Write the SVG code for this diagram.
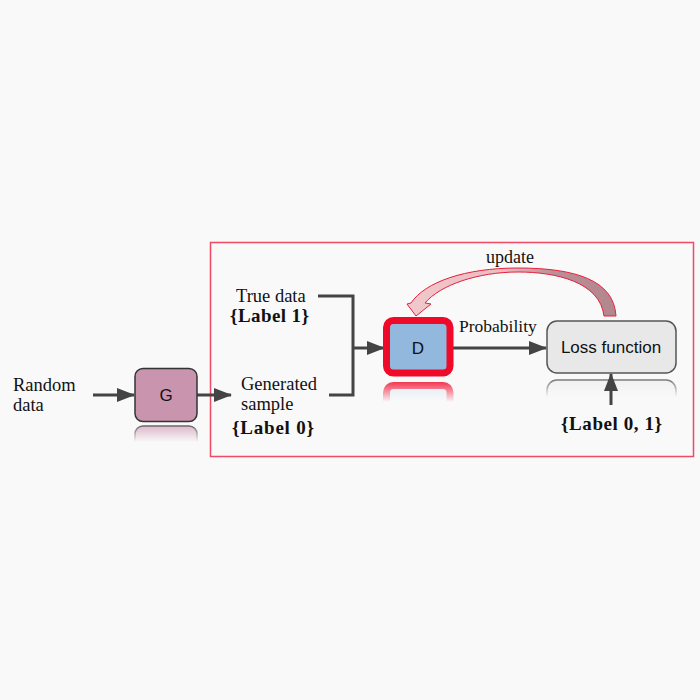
<svg xmlns="http://www.w3.org/2000/svg" width="700" height="700" viewBox="0 0 700 700">
<style>
.serif{font-family:"Liberation Serif","Times New Roman",serif;fill:#111;}
.sans{font-family:"Liberation Sans",Arial,sans-serif;fill:#111;}
.bold{font-weight:bold;}
.conn{fill:none;stroke:#444;stroke-width:3;}
.box{stroke-width:1.5;}
</style>
<defs>
<marker id="ah" markerUnits="userSpaceOnUse" markerWidth="18" markerHeight="14" viewBox="0 0 18 14" refX="17" refY="7" orient="auto">
<path d="M0,0 L18,7 L0,14 Z" fill="#444"/>
</marker>
<linearGradient id="fade" x1="0" y1="0" x2="0" y2="1">
<stop offset="0" stop-color="#fff" stop-opacity="0.9"/>
<stop offset="1" stop-color="#fff" stop-opacity="0"/>
</linearGradient>
<mask id="mG" maskUnits="userSpaceOnUse" x="125" y="420" width="82" height="30"><rect x="125" y="424" width="82" height="18" fill="url(#fade)"/></mask>
<mask id="mD" maskUnits="userSpaceOnUse" x="375" y="376" width="90" height="30"><rect x="375" y="380" width="90" height="22" fill="url(#fade)"/></mask>
<mask id="mL" maskUnits="userSpaceOnUse" x="540" y="374" width="145" height="30"><rect x="540" y="377" width="145" height="20" fill="url(#fade)"/></mask>
<linearGradient id="upd" x1="0" y1="0" x2="1" y2="0">
<stop offset="0" stop-color="#f2c8cc"/>
<stop offset="0.45" stop-color="#ebbcc2"/>
<stop offset="0.7" stop-color="#bb8f97"/>
<stop offset="1" stop-color="#b3868e"/>
</linearGradient>
</defs>
<rect x="0" y="0" width="700" height="700" fill="#f9f9f9"/>
<rect id="frame" x="210.5" y="242.5" width="483" height="214" fill="none" stroke="#ef4a66" stroke-width="1.5"/>

<g id="reflections">
<rect x="135" y="426" width="62" height="53" rx="8" fill="#d7a6bd" stroke="#444" stroke-width="1.5" mask="url(#mG)"/>
<rect x="386.5" y="385.5" width="63.5" height="52.5" rx="7" fill="#dde8f3" stroke="#f00a2a" stroke-width="7" mask="url(#mD)"/>
<rect x="547" y="380" width="129" height="53" rx="10" fill="#eeeeee" stroke="#555" stroke-width="1.5" mask="url(#mL)"/>
</g>

<g id="connectors">
<path class="conn" d="M93 395 H134" marker-end="url(#ah)"/>
<path class="conn" d="M197 395 H231" marker-end="url(#ah)"/>
<path class="conn" d="M318 296 H353 V395 H329"/>
<path class="conn" d="M353 348 H384" marker-end="url(#ah)"/>
<path class="conn" d="M453 348 H546" marker-end="url(#ah)"/>
<path class="conn" d="M611 405 V374" marker-end="url(#ah)"/>
<path id="update-arrow" d="M616 316 C614 280 575 268 518 268 C465 268 425 282 411 303 L407 304 L416 316 L431 304 L425 303 C440 285 478 272 518 272 C556 272 600 282 604 316 Z" fill="url(#upd)" stroke="#e8203a" stroke-width="1"/>
</g>

<g id="random-data">
<text class="serif" x="13" y="391" font-size="18.5">Random</text>
<text class="serif" x="13" y="411" font-size="18.5">data</text>
</g>

<g id="G">
<rect class="box" x="135" y="368.5" width="62" height="53" rx="8" fill="#c994ae" stroke="#333"/>
<text class="sans" x="166" y="401" font-size="17" text-anchor="middle">G</text>
</g>

<g id="true-data">
<text class="serif" x="236" y="302" font-size="18.5">True data</text>
<text class="serif bold" x="230" y="322" font-size="19" textLength="79">{Label 1}</text>
</g>

<g id="generated-sample">
<text class="serif" x="241" y="390" font-size="18.5">Generated</text>
<text class="serif" x="241" y="410" font-size="18.5">sample</text>
<text class="serif bold" x="232" y="434" font-size="19" textLength="82">{Label 0}</text>
</g>

<g id="D">
<rect x="386.5" y="320.5" width="63.5" height="52.5" rx="7" fill="#93b8de" stroke="#f00a2a" stroke-width="7"/>
<text class="sans" x="418" y="354" font-size="17" text-anchor="middle">D</text>
</g>

<g id="probability">
<text class="serif" x="459" y="332" font-size="17.5">Probability</text>
</g>

<g id="update">
<text class="serif" x="510" y="263" font-size="18" text-anchor="middle">update</text>
</g>

<g id="loss">
<rect class="box" x="547" y="321" width="129" height="52" rx="10" fill="#e8e8e8" stroke="#555"/>
<text class="sans" x="611" y="353" font-size="17" text-anchor="middle">Loss function</text>
</g>

<g id="label01">
<text class="serif bold" x="561" y="430" font-size="19" textLength="101">{Label 0, 1}</text>
</g>
</svg>
